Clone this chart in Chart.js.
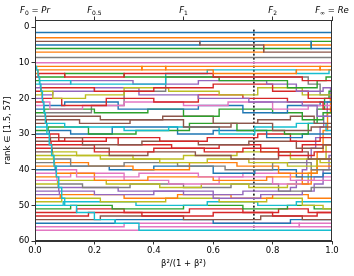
<!DOCTYPE html>
<html lang="en">
<head>
<meta charset="UTF-8">
<title>Rank vs beta</title>
<script src="https://cdn.jsdelivr.net/npm/chart.js"></script>
<style>
  html, body { margin: 0; padding: 0; background: #fff; }
</style>
</head>
<body>
<canvas id="myChart" width="354" height="276"></canvas>
<script>
// axis ticks
const xTicks = [0, 0.2, 0.4, 0.6, 0.8, 1.0];
const yTicks = [0, 10, 20, 30, 40, 50, 60];
const topTicks = [0, 0.2, 0.5, 0.8, 1.0];
const topLabels = [['F', '0', 'Pr'], ['F', '0.5', ''], ['F', '1', ''], ['F', '2', ''], ['F', '∞', 'Re']];
const markerX = 0.737;

// each path: [x where rank starts, rank]
const rankPaths = [
  [[0, 1.5]],
  [[0, 3]],
  [[0, 4], [0.555, 5], [0.77, 7]],
  [[0, 5], [0.555, 4], [0.93, 6]],
  [[0, 6], [0.93, 4]],
  [[0, 7], [0.77, 5]],
  [[0, 8.5]],
  [[0, 10]],
  [[0, 11], [0.005, 12], [0.01, 14], [0.015, 16], [0.02, 18], [0.025, 21], [0.03, 24], [0.035, 27], [0.04, 30], [0.048, 33], [0.056, 36], [0.064, 39], [0.072, 42], [0.08, 45], [0.09, 48], [0.1, 50], [0.14, 52], [0.2, 54], [0.27, 55], [0.35, 57]],
  [[0, 12], [0.005, 11], [0.36, 12], [0.44, 11], [0.96, 12]],
  [[0, 13], [0.01, 12], [0.36, 11], [0.44, 12], [0.6, 13], [0.88, 12], [0.96, 11]],
  [[0, 14], [0.012, 13], [0.1, 14], [0.3, 13], [0.6, 14], [0.9, 15]],
  [[0, 15], [0.015, 14], [0.1, 13], [0.3, 14], [0.62, 15], [0.85, 17], [0.95, 15], [0.98, 14]],
  [[0, 16], [0.016, 15], [0.12, 16], [0.44, 13], [0.58, 12], [0.88, 13], [0.99, 12]],
  [[0, 17], [0.018, 16], [0.12, 15], [0.33, 16], [0.55, 15], [0.78, 16], [0.88, 18], [0.97, 17]],
  [[0, 18], [0.02, 17], [0.2, 18], [0.4, 17], [0.6, 16], [0.8, 18], [0.92, 20]],
  [[0, 19], [0.022, 18], [0.06, 20], [0.17, 19], [0.3, 17], [0.45, 18], [0.62, 19], [0.75, 17], [0.9, 19]],
  [[0, 20], [0.024, 19], [0.06, 18], [0.2, 17], [0.35, 19], [0.55, 20], [0.72, 21], [0.9, 22], [0.95, 25]],
  [[0, 21], [0.026, 20], [0.09, 22], [0.24, 20], [0.4, 21], [0.55, 19], [0.7, 20], [0.85, 21], [0.97, 23]],
  [[0, 22], [0.028, 21], [0.05, 23], [0.16, 22], [0.3, 21], [0.5, 22], [0.65, 21], [0.8, 23], [0.92, 22]],
  [[0, 23], [0.03, 22], [0.1, 21], [0.28, 23], [0.55, 22], [0.7, 24], [0.85, 22], [0.96, 21]],
  [[0, 24], [0.032, 23], [0.2, 24], [0.38, 23], [0.5, 25], [0.62, 23], [0.8, 24], [0.9, 26], [0.97, 24]],
  [[0, 25], [0.034, 24], [0.19, 22], [0.3, 18], [0.44, 14], [0.92, 16], [0.96, 19]],
  [[0, 26], [0.036, 25], [0.22, 26], [0.43, 25], [0.6, 27], [0.75, 26], [0.86, 25], [0.94, 27]],
  [[0, 27], [0.038, 26], [0.15, 27], [0.32, 26], [0.5, 28], [0.66, 27], [0.8, 29], [0.93, 28]],
  [[0, 28], [0.04, 27], [0.1, 28], [0.3, 29], [0.45, 28], [0.62, 30], [0.74, 28], [0.88, 27], [0.98, 29]],
  [[0, 29], [0.044, 28], [0.18, 30], [0.34, 29], [0.52, 27], [0.68, 29], [0.84, 30], [0.92, 27], [0.95, 23], [0.975, 20], [0.99, 18]],
  [[0, 30], [0.048, 29], [0.12, 30], [0.26, 28], [0.48, 30], [0.6, 29], [0.78, 31], [0.9, 30]],
  [[0, 31], [0.05, 30], [0.08, 32], [0.24, 31], [0.42, 32], [0.58, 31], [0.75, 30], [0.86, 32], [0.96, 31]],
  [[0, 32], [0.052, 31], [0.16, 33], [0.36, 32], [0.55, 33], [0.72, 32], [0.88, 34], [0.97, 33]],
  [[0, 33], [0.054, 32], [0.1, 31], [0.28, 33], [0.46, 34], [0.62, 33], [0.76, 35], [0.9, 33]],
  [[0, 34], [0.056, 33], [0.2, 35], [0.4, 34], [0.57, 35], [0.7, 34], [0.82, 36], [0.94, 35]],
  [[0, 35], [0.058, 34], [0.25, 36], [0.38, 35], [0.54, 36], [0.66, 37], [0.82, 35], [0.92, 37]],
  [[0, 36], [0.06, 35], [0.14, 36], [0.33, 37], [0.5, 36], [0.68, 35], [0.86, 37], [0.96, 38]],
  [[0, 37], [0.062, 36], [0.22, 37], [0.42, 38], [0.58, 37], [0.72, 38], [0.85, 39], [0.95, 37]],
  [[0, 38], [0.064, 37], [0.12, 39], [0.3, 38], [0.48, 39], [0.64, 40], [0.8, 38], [0.93, 40]],
  [[0, 39], [0.066, 38], [0.18, 39], [0.33, 40], [0.52, 38], [0.68, 39], [0.82, 41], [0.95, 39]],
  [[0, 40], [0.068, 39], [0.25, 40], [0.4, 39], [0.6, 41], [0.74, 40], [0.88, 42], [0.97, 41]],
  [[0, 41], [0.07, 40], [0.14, 42], [0.35, 41], [0.55, 42], [0.7, 41], [0.86, 43], [0.94, 42]],
  [[0, 42], [0.072, 41], [0.2, 43], [0.38, 42], [0.6, 43], [0.78, 42], [0.9, 44], [0.93, 40], [0.95, 35], [0.97, 29], [0.985, 24], [0.995, 20]],
  [[0, 43], [0.074, 42], [0.12, 41], [0.3, 43], [0.45, 44], [0.62, 42], [0.8, 44], [0.92, 43]],
  [[0, 44], [0.076, 43], [0.24, 44], [0.42, 45], [0.56, 44], [0.72, 45], [0.85, 44], [0.92, 41], [0.95, 37], [0.98, 33]],
  [[0, 45], [0.078, 44], [0.16, 45], [0.32, 44], [0.5, 45], [0.66, 44], [0.82, 46], [0.93, 45]],
  [[0, 46], [0.08, 45], [0.28, 46], [0.5, 47], [0.7, 46], [0.86, 45], [0.88, 43], [0.9, 40], [0.915, 37], [0.93, 34], [0.945, 31], [0.96, 28], [0.972, 25], [0.984, 21], [0.995, 17]],
  [[0, 47], [0.082, 46], [0.2, 47], [0.4, 46], [0.6, 48], [0.76, 47], [0.9, 46], [0.94, 44], [0.97, 40], [0.99, 36]],
  [[0, 48], [0.085, 47], [0.3, 48], [0.48, 47], [0.66, 48], [0.8, 47], [0.92, 48]],
  [[0, 49], [0.09, 48], [0.22, 49], [0.44, 48], [0.62, 49], [0.78, 48], [0.9, 50], [0.97, 51]],
  [[0, 50], [0.095, 49], [0.34, 50], [0.58, 49], [0.75, 50], [0.88, 49]],
  [[0, 51], [0.12, 50], [0.26, 51], [0.5, 50], [0.7, 51], [0.85, 50], [0.94, 51]],
  [[0, 52], [0.14, 51], [0.3, 52], [0.52, 51], [0.7, 52], [0.82, 51], [0.92, 52]],
  [[0, 53], [0.18, 52], [0.36, 53], [0.6, 52], [0.8, 53], [0.95, 52]],
  [[0, 54], [0.22, 53], [0.5, 54], [0.76, 53], [0.9, 54]],
  [[0, 55], [0.27, 54], [0.6, 55], [0.86, 54]],
  [[0, 56], [0.3, 55], [0.89, 56]],
  [[0, 57], [0.35, 56], [0.89, 55]]
];

// tab10 index per path
const rankColors = [0, 1, 5, 0, 2, 1, 7, 6,
  9, 1, 1, 3, 2, 9, 4, 3, 8, 4, 3, 6, 0, 2, 7, 5, 5, 9, 2, 0, 3, 5, 3, 3, 5, 8, 8, 7, 1, 0, 6, 1, 6, 8, 7, 4, 4, 1, 8, 9, 2, 3, 3, 5, 0, 6, 6];

const tab10 = ['#1f77b4', '#ff7f0e', '#2ca02c', '#d62728', '#9467bd', '#8c564b', '#e377c2', '#7f7f7f', '#bcbd22', '#17becf'];
const FONT = 'DejaVu Sans';

const datasets = rankPaths.map((path, i) => {
  const pts = path.map(([x, r]) => ({ x: x, y: r }));
  pts.push({ x: 1, y: path[path.length - 1][1] });
  return {
    data: pts,
    borderColor: tab10[rankColors[i]],
    borderWidth: 1.4,
    pointRadius: 0,
    stepped: true,
    fill: false
  };
});
datasets.push({
  data: [{ x: markerX, y: 0.7 }, { x: markerX, y: 57 }],
  borderColor: '#000',
  borderWidth: 1.5,
  borderDash: [2, 2],
  pointRadius: 0,
  fill: false
});

const topLabelPlugin = {
  id: 'topLabels',
  afterDraw(chart) {
    const ctx = chart.ctx;
    const sx = chart.scales.x2;
    ctx.save();
    ctx.fillStyle = '#000';
    ctx.textBaseline = 'alphabetic';
    topTicks.forEach((v, i) => {
      const [f, sub, rhs] = topLabels[i];
      const parts = [
        { t: f, font: 'italic 8.5px "' + FONT + '"', dy: 0 },
        { t: sub, font: '6px "' + FONT + '"', dy: 2 }
      ];
      if (rhs) {
        parts.push({ t: ' = ', font: '8.5px "' + FONT + '"', dy: 0 });
        parts.push({ t: rhs, font: 'italic 8.5px "' + FONT + '"', dy: 0 });
      }
      let w = 0;
      parts.forEach(p => { ctx.font = p.font; p.w = ctx.measureText(p.t).width; w += p.w; });
      let x = sx.getPixelForValue(v) - w / 2;
      parts.forEach(p => { ctx.font = p.font; ctx.fillText(p.t, x, 13 + p.dy); x += p.w; });
    });
    const a = chart.chartArea;
    ctx.strokeStyle = '#333';
    ctx.lineWidth = 1;
    ctx.strokeRect(a.left + 0.5, a.top + 0.5, a.right - a.left - 1, a.bottom - a.top - 1);
    ctx.restore();
  }
};

const tickFont = { size: 8.5, family: FONT };
const gridOpts = { drawOnChartArea: false, drawTicks: true, tickLength: 3.5, color: '#333' };

const ctx = document.getElementById('myChart').getContext('2d');
const myChart = new Chart(ctx, {
  type: 'line',
  data: { datasets: datasets },
  plugins: [topLabelPlugin],
  options: {
    responsive: false,
    animation: false,
    layout: { padding: { left: 0, right: 22, top: 0, bottom: 0 } },
    plugins: { legend: { display: false }, tooltip: { enabled: false } },
    scales: {
      x: {
        type: 'linear', position: 'bottom', min: 0, max: 1,
        afterBuildTicks: s => { s.ticks = xTicks.map(v => ({ value: v })); },
        afterFit: s => { s.height = 35; },
        ticks: { callback: v => v.toFixed(1), color: '#000', font: tickFont, padding: 1, maxRotation: 0 },
        grid: gridOpts,
        border: { color: '#333' },
        title: { display: true, text: 'β²/(1 + β²)', color: '#000', font: tickFont, padding: { top: 0, bottom: 7 } }
      },
      x2: {
        type: 'linear', position: 'top', min: 0, max: 1,
        afterBuildTicks: s => { s.ticks = topTicks.map(v => ({ value: v })); },
        afterFit: s => { s.height = 20; },
        ticks: { callback: () => '', font: tickFont },
        grid: gridOpts,
        border: { color: '#333' }
      },
      y: {
        type: 'linear', reverse: true, min: -2, max: 60,
        afterBuildTicks: s => { s.ticks = yTicks.map(v => ({ value: v })); },
        afterFit: s => { s.width = 35; },
        ticks: { color: '#000', font: tickFont, padding: 2 },
        grid: gridOpts,
        border: { color: '#333' },
        title: { display: true, text: 'rank ∈ [1.5, 57]', color: '#000', font: tickFont, padding: { top: 3, bottom: 0 } }
      }
    }
  }
});
</script>
</body>
</html>
